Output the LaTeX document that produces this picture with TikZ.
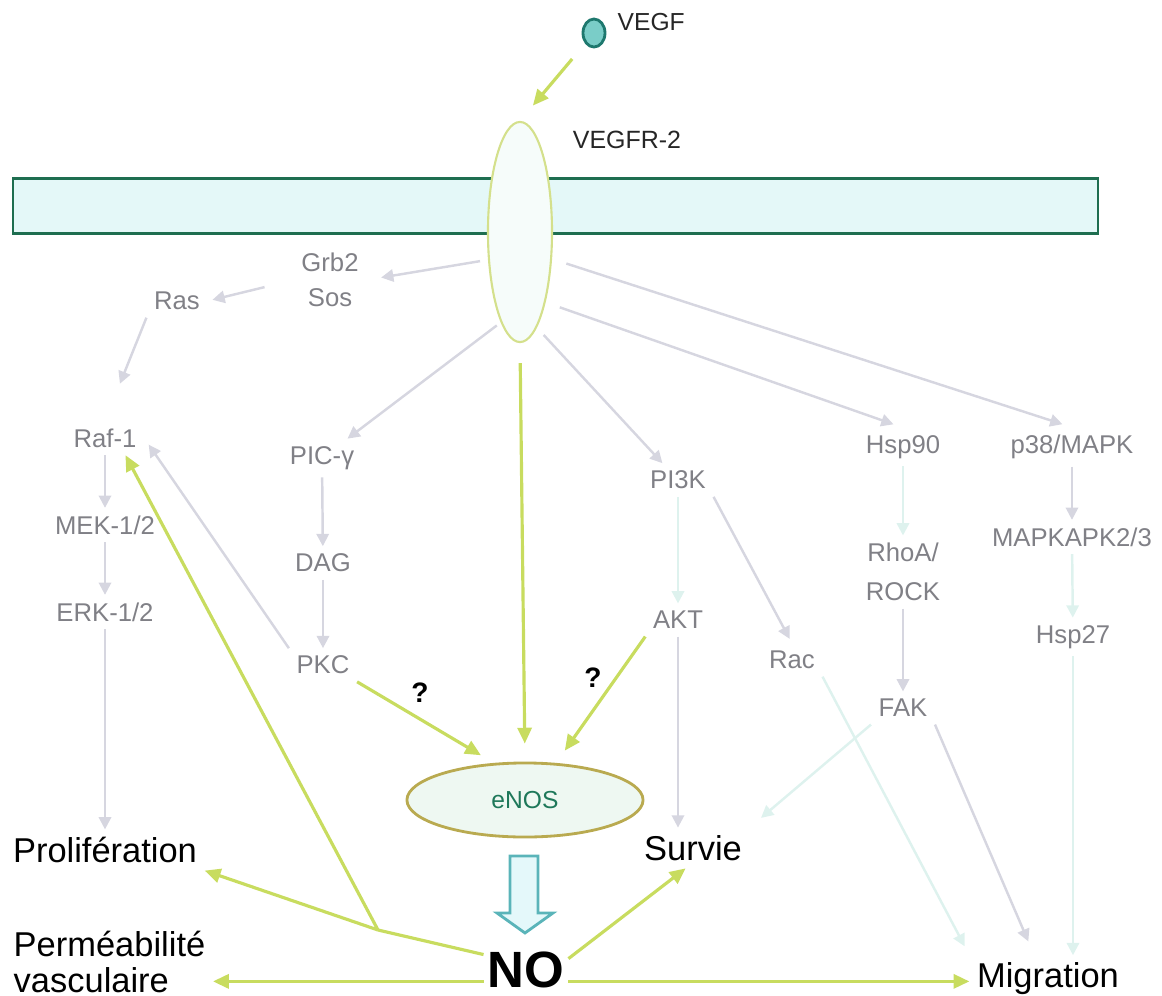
\documentclass[tikz,border=0pt]{standalone}
\usepackage{fontspec}
\setmainfont{Liberation Sans}
\usetikzlibrary{arrows.meta}
\usetikzlibrary{shapes.geometric}

\definecolor{vgreen}{RGB}{200,220,95}
\definecolor{lgray}{RGB}{214,214,224}
\definecolor{lcyan}{RGB}{222,242,238}
\definecolor{txtgray}{RGB}{128,128,134}
\definecolor{membline}{RGB}{30,110,80}
\definecolor{membfill}{RGB}{228,248,248}
\definecolor{recline}{RGB}{212,224,140}
\definecolor{recfill}{RGB}{246,252,250}
\definecolor{vegffill}{RGB}{122,205,200}
\definecolor{vegfline}{RGB}{30,120,110}
\definecolor{enosfill}{RGB}{238,248,242}
\definecolor{enosline}{RGB}{185,170,80}
\definecolor{enostxt}{RGB}{30,120,90}
\definecolor{noarrline}{RGB}{90,180,185}
\definecolor{noarrfill}{RGB}{228,248,250}

\tikzset{
  lbl/.style={text=txtgray, font=\fontsize{7.3}{10}\selectfont, inner sep=2pt, align=center},
  outc/.style={text=black, font=\fontsize{9.8}{10}\selectfont, inner sep=2pt, align=left},
  qmark/.style={text=black, font=\bfseries\fontsize{8}{9}\selectfont, inner sep=1pt},
  grn/.style={vgreen, line width=0.9pt, -{Triangle[length=4.5pt,width=4pt]}},
  gry/.style={lgray, line width=0.7pt, -{Triangle[length=3.5pt,width=3.5pt]}},
  cyn/.style={lcyan, line width=0.7pt, -{Triangle[length=3.5pt,width=3.5pt]}}
}

\begin{document}
\begin{tikzpicture}[x=0.01cm,y=-0.01cm]
\useasboundingbox (0,0) rectangle (1162,996);

% membrane and receptor
\draw[draw=membline, fill=membfill, line width=0.85pt] (13,178) rectangle (1098,233);
\node[ellipse, draw=recline, fill=recfill, line width=0.6pt, minimum width=0.64cm, minimum height=2.2cm, inner sep=0pt] (rec) at (520,232) {};
\node[ellipse, draw=vegfline, fill=vegffill, line width=0.8pt, minimum width=0.22cm, minimum height=0.28cm, inner sep=0pt] (vegf) at (594,33) {};
\node[right, font=\fontsize{7}{8}\selectfont, text=black!85, inner sep=0pt] (vegflbl) at (617,22) {VEGF};
\node[font=\fontsize{7.1}{8}\selectfont, text=black!85, inner sep=0pt] (vegfr) at (627,140) {VEGFR-2};

% pathway labels
\node[lbl] (grb) at (330,280) {Grb2\\Sos};
\node[lbl] (ras) at (177,301) {Ras};
\node[lbl] (raf) at (105,438) {Raf-1};
\node[lbl] (mek) at (105,525) {MEK-1/2};
\node[lbl] (erk) at (105,612) {ERK-1/2};
\node[lbl] (pic) at (322,458) {PIC-γ};
\node[lbl] (dag) at (323,563) {DAG};
\node[lbl] (pkc) at (323,665) {PKC};
\node[lbl] (pik) at (678,480) {PI3K};
\node[lbl] (akt) at (678,620) {AKT};
\node[lbl] (rac) at (792,660) {Rac};
\node[lbl] (hsp90) at (903,447) {Hsp90};
\node[lbl] (rho) at (903,572) {RhoA/\\[1pt]ROCK};
\node[lbl] (fak) at (903,708) {FAK};
\node[lbl] (p38) at (1072,447) {p38/MAPK};
\node[lbl] (mapk) at (1072,537) {MAPKAPK2/3};
\node[lbl] (hsp27) at (1073,637) {Hsp27};

% outcomes
\node[outc] (prol) at (105,850) {Prolifération};
\node[outc, anchor=west] (perm) at (6,962) {Perméabilité\\vasculaire};
\node[outc] (surv) at (693,848) {Survie};
\node[outc] (mig) at (1048,979) {Migration};

% eNOS and NO
\node[ellipse, draw=enosline, fill=enosfill, line width=0.8pt, minimum width=2.36cm, minimum height=0.74cm, text=enostxt, font=\fontsize{7}{8}\selectfont] (enos) at (525,800) {eNOS};
\node[font=\bfseries\fontsize{14.5}{15}\selectfont, inner sep=1pt] (no) at (526,970) {NO};
\draw[draw=noarrline, fill=noarrfill, line width=0.8pt] (510,856) -- (538,856) -- (538,913) -- (553,913) -- (525,933) -- (497,913) -- (510,913) -- cycle;

\node[qmark] (q1) at (420,693) {?};
\node[qmark] (q2) at (593,678) {?};

% gray and light arrows
\draw[gry, shorten <=0.08cm, shorten >=0.15cm] (rec.221) -- (grb.east);
\draw[gry, shorten <=0.3cm, shorten >=0.05cm] (grb.west) -- (ras.east);
\draw[gry, shorten >=0.4cm] (ras.south west) -- (raf.north);
\draw[gry] (raf) -- (mek);
\draw[gry] (mek) -- (erk);
\draw[gry] (erk) -- (prol);
\draw[gry, shorten <=0.05cm] (rec.258) -- (pic);
\draw[gry] (pic) -- (dag);
\draw[gry] (dag) -- (pkc);
\draw[gry, shorten >=0.08cm] (pkc.north west) -- (raf.east);
\draw[gry, shorten <=0.1cm] (rec.280) -- (pik);
\draw[cyn] (pik) -- (akt);
\draw[gry, shorten >=0.05cm] (pik.south east) -- (rac.north);
\draw[gry] (akt.south) -- (akt.south |- surv.north);
\draw[gry, shorten <=0.15cm, shorten >=0.1cm] (rec.290) -- (hsp90.north);
\draw[gry, shorten <=0.15cm, shorten >=0.1cm] (rec.320) -- (p38.north);
\draw[cyn] (hsp90) -- (rho);
\draw[gry] (rho) -- (fak);
\draw[cyn, shorten >=0.15cm] (fak.south west) -- (surv.north east);
\draw[gry, shorten >=0.15cm] (fak.south east) -- (mig.120);
\draw[cyn, shorten >=0.1cm] (rac.south east) -- (mig.north west);
\draw[gry] (p38) -- (mapk);
\draw[cyn] (mapk) -- (hsp27);
\draw[cyn] (hsp27.south) -- (hsp27.south |- mig.north);

% green arrows
\draw[grn, shorten <=0.2cm, shorten >=0.2cm] (vegf.230) -- (rec.north);
\draw[grn, shorten <=0.2cm, shorten >=0.18cm] (rec.south) -- (enos.north);
\draw[grn, shorten >=0.15cm] (pkc.south east) -- (enos.130);
\draw[grn, shorten >=0.15cm] (akt.south west) -- (enos.50);
\coordinate (nobr) at (378,930);
\draw[vgreen, line width=0.9pt] (no.160) -- (nobr);
\draw[grn] (nobr) -- (prol.south east);
\draw[grn] (nobr) -- (raf.-40);
\draw[grn] (no.195) -- (no.195 -| perm.east);
\draw[grn] (no.-15) -- (no.-15 -| mig.west);
\draw[grn] (no.15) -- (surv.250);

\end{tikzpicture}
\end{document}
